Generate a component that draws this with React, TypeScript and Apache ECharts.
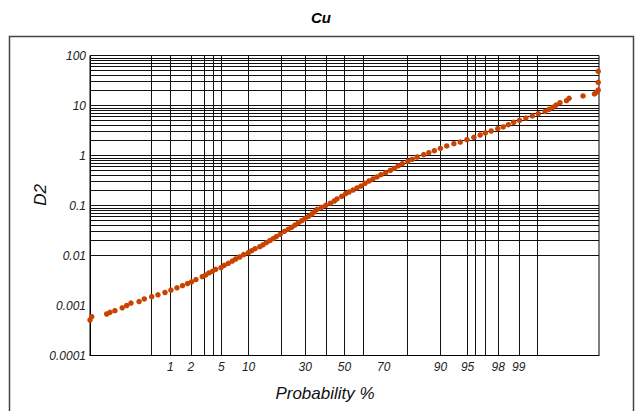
import React, { useEffect, useRef } from "react";
import * as echarts from "echarts";

// Cumulative probability (%) of each plotted sample
const probability = [
  0.0337, 0.0366, 0.0744, 0.0866, 0.108, 0.149, 0.181, 0.217, 0.303, 0.374,
  0.5, 0.635, 0.824, 1.02, 1.26, 1.52, 1.8, 2.05, 2.36, 2.87,
  3.17, 3.51, 3.89, 4.26, 4.95, 5.41, 6.03, 6.69, 7.3, 8.08,
  8.9, 9.94, 10.75, 11.6, 12.9, 13.8, 14.8, 15.9, 17.0, 18.1,
  19.5, 21.1, 22.6, 24.0, 25.4, 26.9, 28.4, 29.9, 31.5, 33.2,
  34.4, 35.7, 38.0, 40.1, 42.5, 44.6, 46.0, 48.5, 50.6, 52.4,
  54.5, 56.6, 58.7, 60.8, 62.8, 64.8, 66.8, 68.7, 70.9, 73.0,
  74.7, 76.3, 78.0, 80.1, 81.7, 83.4, 85.5, 87.0, 88.5, 90.0,
  91.4, 92.8, 93.9, 94.9, 95.8, 96.5, 97.0, 97.5, 97.97, 98.3,
  98.57, 98.81, 99.03, 99.23, 99.395, 99.519, 99.631, 99.685, 99.73, 99.764,
  99.8, 99.849, 99.865, 99.928, 99.958, 99.962, 99.965, 99.965, 99.965,
];

// D2 values (log scale)
const d2 = [
  0.000513, 0.000597, 0.000676, 0.000731, 0.000787, 0.000899, 0.001, 0.00112, 0.0012, 0.00135,
  0.0015, 0.00164, 0.00182, 0.00202, 0.00226, 0.00249, 0.00275, 0.00298, 0.00331, 0.00377,
  0.00407, 0.00447, 0.00483, 0.0053, 0.0057, 0.00637, 0.00698, 0.00776, 0.00851, 0.00933,
  0.0104, 0.0114, 0.0125, 0.0137, 0.015, 0.0164, 0.018, 0.0198, 0.0217, 0.0238,
  0.0265, 0.0305, 0.0334, 0.0366, 0.0407, 0.0453, 0.0497, 0.0545, 0.0608, 0.0676,
  0.0748, 0.0839, 0.092, 0.101, 0.111, 0.123, 0.135, 0.153, 0.172, 0.186,
  0.204, 0.224, 0.245, 0.278, 0.309, 0.339, 0.372, 0.413, 0.453, 0.506,
  0.555, 0.617, 0.686, 0.766, 0.839, 0.933, 1.04, 1.14, 1.25, 1.39,
  1.55, 1.72, 1.86, 2.07, 2.31, 2.57, 2.82, 3.09, 3.44, 3.72,
  4.13, 4.61, 5.06, 5.62, 6.17, 6.85, 7.59, 8.39, 9.2, 10.2,
  11.4, 12.5, 13.9, 15.5, 17.0, 18.6, 20.4, 29.1, 48.3,
];

// Probability axis labels and grid lines (%)
const probLabels = [1, 2, 5, 10, 30, 50, 70, 90, 95, 98, 99];
const probGrid = [0.5, 1, 2, 3, 4, 5, 10, 20, 30, 40, 50, 60, 80, 90, 95, 96, 97, 98, 99, 99.5];

// Log axis grid: mantissas within each decade
const decades = [0.0001, 0.001, 0.01, 0.1, 1, 10];
const mantissas = [1, 2, 3, 4, 5, 6, 7, 8, 9];
const yTop = 100;

// Inverse standard normal CDF (Acklam)
function probit(p: number): number {
  const a = [-3.969683028665376e1, 2.209460984245205e2, -2.759285104469687e2, 1.38357751867269e2, -3.066479806614716e1, 2.506628277459239];
  const b = [-5.447609879822406e1, 1.615858368580409e2, -1.556989798598866e2, 6.680131188771972e1, -1.328068155288572e1];
  const c = [-7.784894002430293e-3, -3.223964580411365e-1, -2.400758277161838, -2.549732975576209, 4.374664141464968, 2.938163982698783];
  const d = [7.784695709041462e-3, 3.224671290700398e-1, 2.445134137142996, 3.754408692376029];
  const plow = 0.02425;
  const phigh = 1 - plow;
  if (p < plow) {
    const q = Math.sqrt(-2 * Math.log(p));
    return (((((c[0] * q + c[1]) * q + c[2]) * q + c[3]) * q + c[4]) * q + c[5]) /
      ((((d[0] * q + d[1]) * q + d[2]) * q + d[3]) * q + 1);
  }
  if (p <= phigh) {
    const q = p - 0.5;
    const r = q * q;
    return ((((((a[0] * r + a[1]) * r + a[2]) * r + a[3]) * r + a[4]) * r + a[5]) * q) /
      (((((b[0] * r + b[1]) * r + b[2]) * r + b[3]) * r + b[4]) * r + 1);
  }
  const q = Math.sqrt(-2 * Math.log(1 - p));
  return -(((((c[0] * q + c[1]) * q + c[2]) * q + c[3]) * q + c[4]) * q + c[5]) /
    ((((d[0] * q + d[1]) * q + d[2]) * q + d[3]) * q + 1);
}

const z = (pct: number) => probit(pct / 100);

export default function App() {
  const ref = useRef<HTMLDivElement>(null);

  useEffect(() => {
    if (!ref.current) return;
    const chart = echarts.init(ref.current, undefined, { renderer: "svg" });

    const n = Math.min(probability.length, d2.length);
    const points: number[][] = [];
    for (let i = 0; i < n; i++) points.push([z(probability[i]), d2[i]]);

    const labelZ = probLabels.map(z);
    const yGrid: number[] = [];
    decades.forEach((dec) => mantissas.forEach((m) => yGrid.push(Number((m * dec).toPrecision(6)))));
    yGrid.push(yTop);

    const font = "'Liberation Sans', Arial, sans-serif";
    const gridLine = { color: "#111", width: 1, type: "solid" as const };

    chart.setOption({
      animation: false,
      backgroundColor: "#fff",
      grid: {
        left: 90,
        top: 55.5,
        width: 509,
        height: 300,
        show: true,
        borderColor: "#000",
        borderWidth: 1,
        containLabel: false,
      },
      xAxis: {
        type: "value",
        min: -3.4,
        max: 3.4,
        axisLine: { show: true, onZero: false, lineStyle: { color: "#000", width: 1 } },
        axisTick: { show: false },
        splitLine: { show: false },
        axisLabel: {
          customValues: labelZ,
          formatter: (v: number) => {
            let best = 0;
            let bd = Infinity;
            labelZ.forEach((lz, i) => {
              const dd = Math.abs(lz - v);
              if (dd < bd) { bd = dd; best = i; }
            });
            return String(probLabels[best]);
          },
          margin: 5,
          fontSize: 12,
          fontStyle: "italic",
          fontFamily: font,
          color: "#222",
          hideOverlap: false,
        },
      },
      yAxis: {
        type: "log",
        logBase: 10,
        min: 0.0001,
        max: 100,
        axisLine: { show: true, onZero: false, lineStyle: { color: "#000", width: 1 } },
        axisTick: { show: false },
        splitLine: { show: false },
        minorSplitLine: { show: false },
        axisLabel: {
          formatter: (v: number) => String(Number(v.toPrecision(6))),
          margin: 4,
          fontSize: 12,
          fontStyle: "italic",
          fontFamily: font,
          color: "#222",
          padding: [3, 0, 0, 0],
        },
      },
      series: [
        {
          type: "scatter",
          name: "grid",
          silent: true,
          symbolSize: 0,
          itemStyle: { opacity: 0 },
          data: [[0, 1]],
          z: 1,
          markLine: {
            silent: true,
            symbol: ["none", "none"],
            label: { show: false },
            lineStyle: gridLine,
            emphasis: { disabled: true },
            data: [
              ...probGrid.map((p) => ({ xAxis: z(p) })),
              ...yGrid.map((v) => ({ yAxis: v })),
            ],
          },
        },
        {
          type: "scatter",
          name: "Cu",
          data: points,
          symbol: "circle",
          symbolSize: 5.5,
          itemStyle: { color: "#c94300", opacity: 1 },
          clip: false,
          z: 5,
        },
      ],
      graphic: [
        {
          type: "rect",
          shape: { x: 9.5, y: 36.5, width: 624, height: 420 },
          style: { fill: "none", stroke: "#444", lineWidth: 1.5 },
          silent: true,
          z: 0,
        },
        {
          type: "text",
          x: 321,
          y: 17,
          style: {
            text: "Cu",
            font: `italic bold 15px ${font}`,
            fill: "#000",
            textAlign: "center",
            textVerticalAlign: "middle",
          },
        },
        {
          type: "text",
          x: 325,
          y: 393,
          style: {
            text: "Probability %",
            font: `italic 17px ${font}`,
            fill: "#111",
            textAlign: "center",
            textVerticalAlign: "middle",
          },
        },
        {
          type: "text",
          x: 40,
          y: 195,
          rotation: Math.PI / 2,
          style: {
            text: "D2",
            font: `italic 17px ${font}`,
            fill: "#111",
            textAlign: "center",
            textVerticalAlign: "middle",
          },
        },
      ],
    });

    return () => chart.dispose();
  }, []);

  return (
    <div
      ref={ref}
      style={{ position: "fixed", left: 0, top: 0, width: 642, height: 411, background: "#fff" }}
    />
  );
}
